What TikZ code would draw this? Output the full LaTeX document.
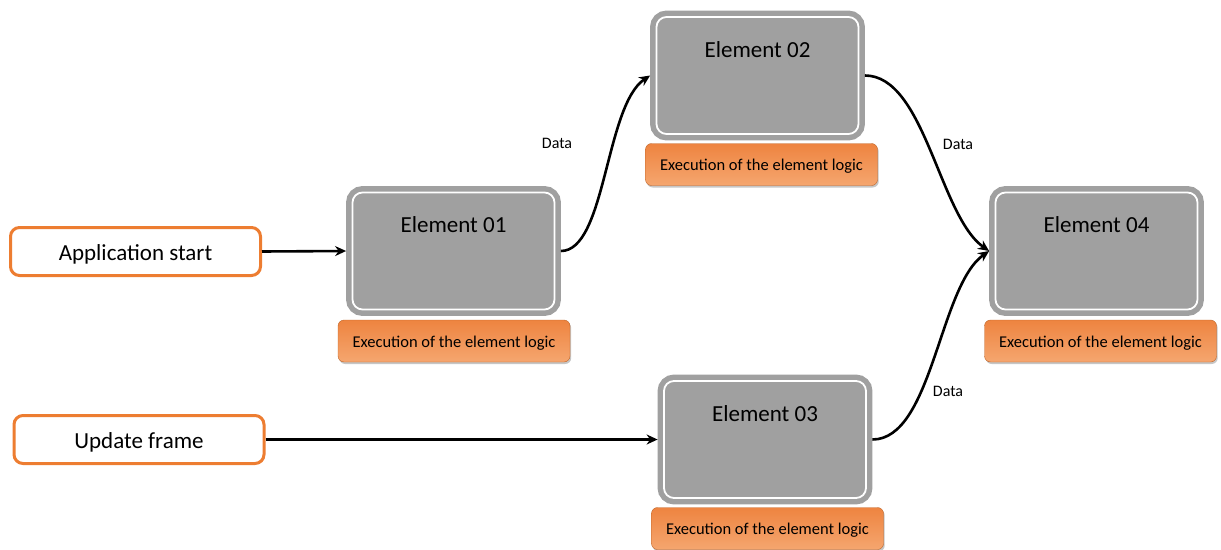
\documentclass[tikz,border=0pt]{standalone}
\usepackage{fontspec}
\setmainfont{Carlito}
\usetikzlibrary{arrows.meta,shadows}
\definecolor{body}{HTML}{A0A0A0}
\definecolor{accent}{HTML}{ED7D31}
\definecolor{barTop}{HTML}{EE8440}
\definecolor{barBot}{HTML}{F5A66F}
\tikzset{
  element/.style={draw=body, double=white, double distance=1.8pt, line width=5.5pt,
    fill=body, rounded corners=10pt, minimum width=202pt, minimum height=117pt,
    outer sep=6.4pt, inner sep=0pt},
  title/.style={font=\fontsize{23}{26}\selectfont, inner sep=0pt, anchor=base},
  logic/.style={rounded corners=6pt, top color=barTop, bottom color=barBot,
    draw=accent!80!black, line width=0.4pt,
    minimum width=232pt, minimum height=42pt, inner sep=0pt,
    text height=12pt, text depth=0pt,
    font=\fontsize{16.5}{19}\selectfont,
    drop shadow={shadow xshift=1.2pt, shadow yshift=-2pt, opacity=0.45}},
  event/.style={draw=accent, line width=3pt, fill=white, rounded corners=9pt,
    minimum width=250pt, minimum height=48pt, inner sep=0pt, outer sep=1.5pt,
    text height=18pt, text depth=0pt,
    font=\fontsize{23}{26}\selectfont},
  flow/.style={line width=2.6pt, -{Stealth[length=11pt,width=10pt]}},
  tag/.style={font=\fontsize{16}{19}\selectfont, inner sep=0pt}
}
\begin{document}
\begin{tikzpicture}[x=1pt, y=-1pt]
  \useasboundingbox (0,0) rectangle (1221,549);

  % trigger events
  \node[event] (start)  at (135.5,251.5) {Application start};
  \node[event] (update) at (139,439.5)   {Update frame};

  % processing elements
  \node[element] (e1) at (453.5,251)  {};
  \node[element] (e2) at (757.5,75.5) {};
  \node[element] (e3) at (765,439.5)  {};
  \node[element] (e4) at (1096.5,251) {};

  \node[title] (t1) at (453.5,232.5) {Element 01};
  \node[title] (t2) at (757.5,57)    {Element 02};
  \node[title] (t3) at (765,421)     {Element 03};
  \node[title] (t4) at (1096.5,232.5){Element 04};

  % logic bars under each element
  \node[logic] (x1) at (454,341)     {Execution of the element logic};
  \node[logic] (x2) at (761.5,164.5) {Execution of the element logic};
  \node[logic] (x3) at (767.5,528.5) {Execution of the element logic};
  \node[logic] (x4) at (1100.5,341)  {Execution of the element logic};

  % connections
  \draw[flow] (start.east) -- (e1.west);
  \draw[flow] (update.east) -- (e3.west);
  \draw[flow] (e1.east) .. controls +(45,0) and +(-45,30) .. (e2.west);
  \draw[flow] (e2.east) .. controls +(60,0) and +(-50,-35) .. (e4.west);
  \draw[flow] (e3.east) .. controls +(60,0) and +(-50,35) .. (e4.west);

  % data labels
  \node[tag] (d1) at (557,143) {Data};
  \node[tag] (d2) at (958,144) {Data};
  \node[tag] (d3) at (948,391) {Data};
\end{tikzpicture}
\end{document}
